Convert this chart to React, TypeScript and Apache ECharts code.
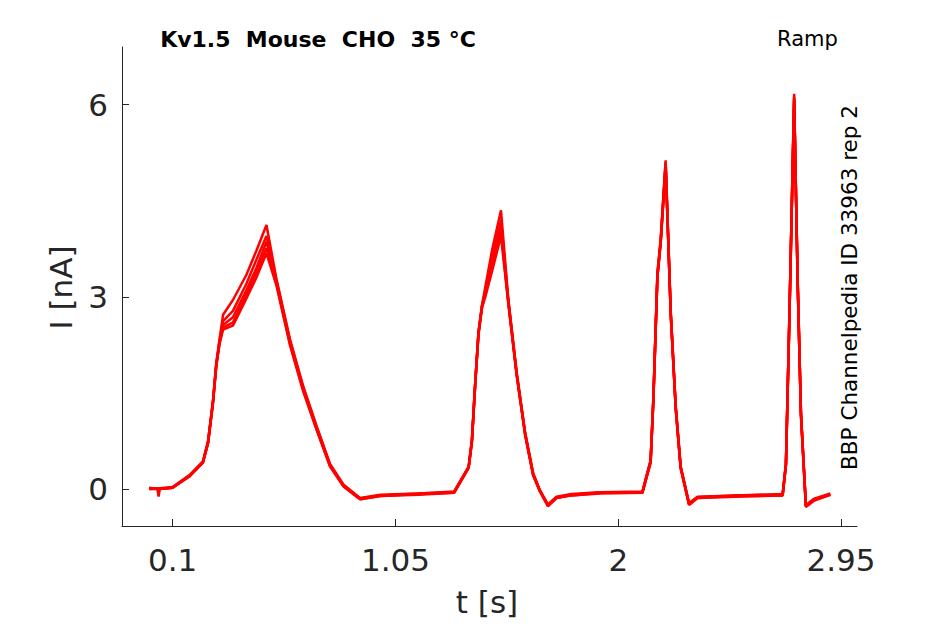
import React, { useEffect, useRef } from "react";
import * as echarts from "echarts";

// time points (s), shared by all sweeps
const times = [
  0.0, 0.035, 0.04, 0.045, 0.1, 0.173, 0.229, 0.251, 0.272, 0.286, 0.3, 0.315, 0.357, 0.414, 0.457, 0.5,
  0.543, 0.6, 0.657, 0.714, 0.771, 0.828, 0.892, 0.9, 0.985, 1.15, 1.3, 1.362, 1.376, 1.39, 1.404, 1.419,
  1.433, 1.462, 1.5, 1.531, 1.567, 1.603, 1.637, 1.665, 1.7, 1.737, 1.8, 1.924, 2.103, 2.138, 2.15, 2.167,
  2.181, 2.202, 2.224, 2.245, 2.266, 2.302, 2.338, 2.5, 2.701, 2.715, 2.73, 2.75, 2.765, 2.779, 2.8, 2.836, 2.904,
];

// current (nA), one array per sweep
const sweep1 = [
  0.02, 0.0, -0.12, 0.0, 0.03, 0.22, 0.43, 0.75, 1.38, 1.96, 2.34, 2.72, 2.95, 3.34, 3.72, 4.12,
  3.27, 2.34, 1.6, 0.98, 0.39, 0.07, -0.12, -0.14, -0.09, -0.07, -0.04, 0.35, 0.77, 1.66, 2.45, 2.87,
  3.15, 3.73, 4.35, 2.97, 1.82, 0.88, 0.25, -0.01, -0.24, -0.12, -0.08, -0.05, -0.04, 0.45, 1.45, 3.38,
  3.9, 5.13, 2.76, 1.3, 0.36, -0.22, -0.12, -0.1, -0.08, 0.4, 2.75, 6.17, 3.28, 1.2, -0.25, -0.15, -0.07,
];
const sweep2 = [
  0.01, 0.01, 0.0, 0.0, 0.02, 0.21, 0.42, 0.74, 1.37, 1.95, 2.32, 2.62, 2.78, 3.2, 3.58, 3.95,
  3.25, 2.32, 1.58, 0.96, 0.38, 0.06, -0.13, -0.15, -0.1, -0.07, -0.05, 0.34, 0.76, 1.65, 2.44, 2.86,
  3.1, 3.6, 4.2, 2.95, 1.8, 0.87, 0.24, -0.02, -0.25, -0.13, -0.09, -0.05, -0.05, 0.44, 1.43, 3.35,
  3.88, 5.1, 2.74, 1.28, 0.35, -0.23, -0.13, -0.1, -0.09, 0.39, 2.73, 6.12, 3.25, 1.18, -0.26, -0.16, -0.08,
];
const sweep3 = [
  0.0, 0.0, 0.01, 0.0, 0.02, 0.21, 0.42, 0.73, 1.36, 1.94, 2.3, 2.56, 2.68, 3.1, 3.45, 3.86,
  3.22, 2.3, 1.56, 0.95, 0.37, 0.05, -0.13, -0.15, -0.1, -0.08, -0.05, 0.34, 0.75, 1.64, 2.43, 2.85,
  3.05, 3.5, 4.1, 2.93, 1.79, 0.86, 0.23, -0.02, -0.26, -0.13, -0.09, -0.06, -0.05, 0.43, 1.42, 3.33,
  3.86, 5.08, 2.72, 1.27, 0.34, -0.24, -0.13, -0.11, -0.09, 0.38, 2.72, 6.1, 3.23, 1.17, -0.27, -0.17, -0.08,
];
const sweep4 = [
  0.01, 0.0, 0.0, 0.01, 0.03, 0.2, 0.41, 0.72, 1.35, 1.93, 2.28, 2.52, 2.6, 3.03, 3.38, 3.76,
  3.2, 2.27, 1.54, 0.93, 0.36, 0.05, -0.14, -0.16, -0.11, -0.08, -0.06, 0.33, 0.74, 1.63, 2.42, 2.84,
  3.02, 3.45, 4.02, 2.92, 1.78, 0.85, 0.22, -0.03, -0.26, -0.14, -0.1, -0.06, -0.06, 0.42, 1.41, 3.32,
  3.85, 5.06, 2.71, 1.26, 0.33, -0.24, -0.14, -0.11, -0.1, 0.38, 2.71, 6.08, 3.22, 1.16, -0.27, -0.17, -0.09,
];
const sweep5 = [
  0.0, 0.01, 0.0, 0.0, 0.02, 0.2, 0.41, 0.71, 1.34, 1.92, 2.27, 2.49, 2.55, 2.97, 3.3, 3.68,
  3.17, 2.25, 1.52, 0.92, 0.35, 0.04, -0.14, -0.16, -0.11, -0.09, -0.06, 0.33, 0.73, 1.62, 2.41, 2.83,
  3.0, 3.4, 3.95, 2.9, 1.77, 0.84, 0.21, -0.03, -0.27, -0.14, -0.1, -0.07, -0.06, 0.41, 1.4, 3.3,
  3.84, 5.04, 2.7, 1.25, 0.32, -0.25, -0.14, -0.12, -0.1, 0.37, 2.7, 6.06, 3.2, 1.15, -0.28, -0.18, -0.09,
];
const sweeps = [sweep1, sweep2, sweep3, sweep4, sweep5];

const xTicks = [0.1, 1.05, 2, 2.95];
const yTicks = [0, 3, 6];

const titleText = "Kv1.5  Mouse  CHO  35 °C";
const protocolText = "Ramp";
const sideText = "BBP Channelpedia ID 33963 rep 2";
const xName = "t [s]";
const yName = "I [nA]";

const FONT = '"DejaVu Sans", "Liberation Sans", sans-serif';
const AXIS = "#262626";

export default function App() {
  const ref = useRef<HTMLDivElement>(null);
  useEffect(() => {
    if (!ref.current) return;
    const chart = echarts.init(ref.current, null, { renderer: "svg" });
    const axisLine = { show: true, onZero: false, lineStyle: { color: AXIS, width: 1 } };
    chart.setOption({
      animation: false,
      backgroundColor: "#ffffff",
      grid: { left: 122, top: 47, width: 735, height: 479, containLabel: false },
      xAxis: {
        type: "value",
        min: -0.116,
        max: 3.018,
        axisLine,
        splitLine: { show: false },
        axisTick: { show: true, inside: true, length: 7, customValues: xTicks, lineStyle: { color: AXIS } },
        axisLabel: {
          customValues: xTicks,
          margin: 18,
          fontSize: 31,
          fontFamily: FONT,
          color: AXIS,
          formatter: (v: number) => String(v),
        },
      },
      yAxis: {
        type: "value",
        min: -0.578,
        max: 6.9,
        axisLine,
        splitLine: { show: false },
        axisTick: { show: true, inside: true, length: 7, customValues: yTicks, lineStyle: { color: AXIS } },
        axisLabel: {
          customValues: yTicks,
          margin: 14,
          fontSize: 31,
          fontFamily: FONT,
          color: AXIS,
          formatter: (v: number) => String(v),
        },
      },
      series: sweeps.map((s) => ({
        type: "line",
        data: times.map((t, i) => [t, s[i]]),
        showSymbol: false,
        symbol: "none",
        lineStyle: { color: "#ff0000", width: 2.5 },
        silent: true,
      })),
      graphic: [
        {
          type: "text",
          x: 318,
          y: 39.5,
          style: {
            text: titleText,
            fontSize: 22,
            fontWeight: "bold",
            fontFamily: FONT,
            fill: "#000000",
            align: "center",
            verticalAlign: "middle",
          },
        },
        {
          type: "text",
          x: 807.5,
          y: 38.5,
          style: {
            text: protocolText,
            fontSize: 21,
            fontFamily: FONT,
            fill: "#000000",
            align: "center",
            verticalAlign: "middle",
          },
        },
        {
          type: "text",
          x: 849,
          y: 287.5,
          rotation: Math.PI / 2,
          style: {
            text: sideText,
            fontSize: 21.5,
            fontFamily: FONT,
            fill: "#000000",
            align: "center",
            verticalAlign: "middle",
          },
        },
        {
          type: "text",
          x: 61,
          y: 287.5,
          rotation: Math.PI / 2,
          style: {
            text: yName,
            fontSize: 31,
            fontFamily: FONT,
            fill: AXIS,
            align: "center",
            verticalAlign: "middle",
          },
        },
        {
          type: "text",
          x: 487,
          y: 602,
          style: {
            text: xName,
            fontSize: 31,
            fontFamily: FONT,
            fill: AXIS,
            align: "center",
            verticalAlign: "middle",
          },
        },
      ],
    });
    return () => chart.dispose();
  }, []);
  return (
    <div
      ref={ref}
      style={{ position: "fixed", left: 0, top: 0, width: 945, height: 624, background: "#fff" }}
    />
  );
}
